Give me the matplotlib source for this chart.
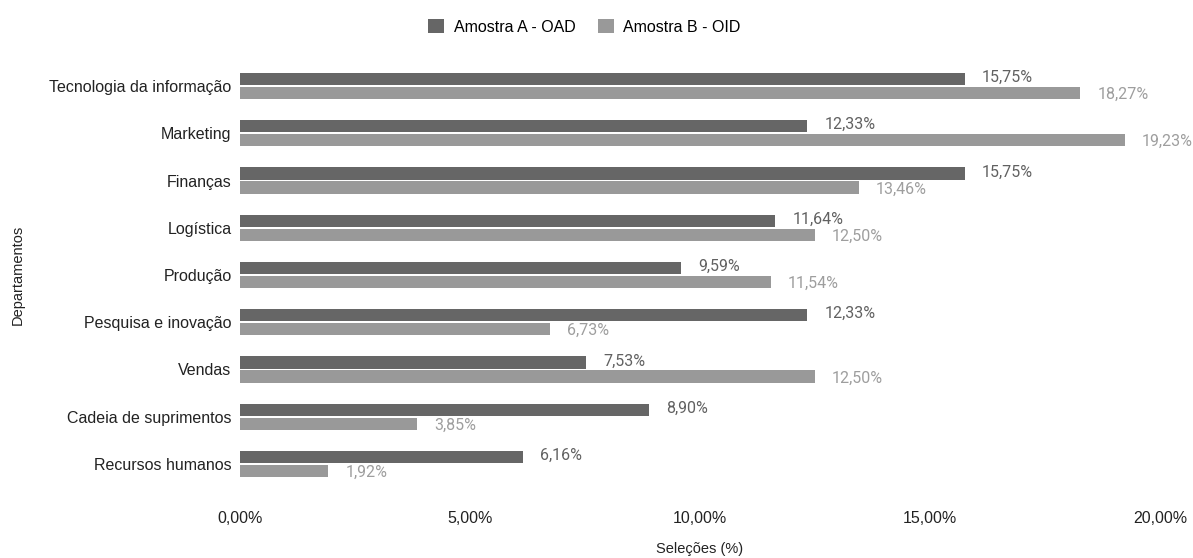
import matplotlib.pyplot as plt
import numpy as np

# departamentos (de cima para baixo)
departamentos = ["Tecnologia da informação", "Marketing", "Finanças", "Logística", "Produção",
                 "Pesquisa e inovação", "Vendas", "Cadeia de suprimentos", "Recursos humanos"]
amostra_a = [15.75, 12.33, 15.75, 11.64, 9.59, 12.33, 7.53, 8.90, 6.16]
amostra_b = [18.27, 19.23, 13.46, 12.50, 11.54, 6.73, 12.50, 3.85, 1.92]
series_nomes = ["Amostra A - OAD", "Amostra B - OID"]
xticks = [0, 5, 10, 15, 20]

cor_a = "#666666"
cor_b = "#999999"
cor_lbl_a = "#616161"
cor_lbl_b = "#9e9e9e"

fig = plt.figure(figsize=(11.93, 5.58), dpi=100)
ax = fig.add_axes([240 / 1193, 1 - 487.6 / 558, 920 / 1193, (487.6 - 62.4) / 558])

y = np.arange(len(departamentos))
h = 0.26
off = 0.15

bars_a = ax.barh(y - off, amostra_a, height=h, color=cor_a, label=series_nomes[0])
bars_b = ax.barh(y + off, amostra_b, height=h, color=cor_b, label=series_nomes[1])

for vals, yy, c in [(amostra_a, y - off - 0.03, cor_lbl_a), (amostra_b, y + off + 0.03, cor_lbl_b)]:
    for v, yi in zip(vals, yy):
        ax.text(v + 0.37, yi, f"{v:.2f}%".replace(".", ","), va="center", ha="left",
                fontsize=11.5, color=c, family="Roboto")

ax.set_xlim(0, 20)
ax.set_ylim(len(departamentos) - 0.5, -0.5)
ax.set_yticks(y, labels=departamentos)
ax.set_xticks(xticks, labels=[f"{t:.2f}%".replace(".", ",") for t in xticks])
for lbl in ax.get_yticklabels() + ax.get_xticklabels():
    lbl.set_family("Liberation Sans")
    lbl.set_fontsize(11.5)
    lbl.set_color("#222222")
ax.tick_params(axis="both", length=0)
ax.tick_params(axis="x", pad=17)
ax.tick_params(axis="y", pad=6)
for s in ax.spines.values():
    s.set_visible(False)

ax.set_ylabel("Departamentos", family="Liberation Sans", fontsize=10.5, color="#222222")
ax.set_xlabel("Seleções (%)", family="Liberation Sans", fontsize=10.5, color="#222222")
ax.yaxis.set_label_coords(-0.242, 0.5)
ax.xaxis.set_label_coords(0.5, -0.144)
ax.xaxis.label.set_va("center")
ax.yaxis.label.set_va("center")

fig.legend(handles=[bars_a, bars_b], labels=series_nomes, loc="center", bbox_to_anchor=(0.49, 1 - 27 / 558),
           ncol=2, frameon=False, prop={"family": "Liberation Sans", "size": 11.5},
           handlelength=1.0, handleheight=1.0, columnspacing=1.4, handletextpad=0.6)

fig.savefig("out.png", dpi=100)
